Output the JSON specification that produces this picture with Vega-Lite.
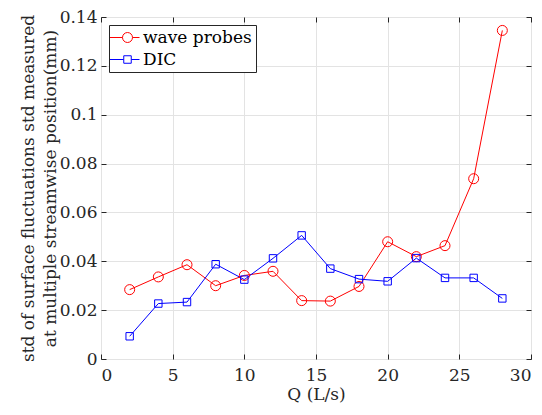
{
  "$schema": "https://vega.github.io/schema/vega-lite/v6.json",
  "width": 430,
  "height": 342,
  "autosize": {"type": "none"},
  "padding": {"left": 101, "top": 17, "right": 11, "bottom": 56},
  "config": {
    "font": "DejaVu Serif",
    "view": {"stroke": "#262626", "strokeWidth": 1},
    "axis": {
      "labelFont": "DejaVu Serif",
      "titleFont": "DejaVu Serif",
      "labelColor": "#262626",
      "titleColor": "#262626",
      "labelFontSize": 17,
      "titleFontSize": 17,
      "titleFontWeight": "normal",
      "gridColor": "#e3e3e3",
      "gridOpacity": 1,
      "tickColor": "#262626",
      "domain": false
    }
  },
  "data": {
    "values": [
      {"Q": 2, "std": 0.0284, "source": "wave probes"},
      {"Q": 4, "std": 0.0336, "source": "wave probes"},
      {"Q": 6, "std": 0.0386, "source": "wave probes"},
      {"Q": 8, "std": 0.0300, "source": "wave probes"},
      {"Q": 10, "std": 0.0342, "source": "wave probes"},
      {"Q": 12, "std": 0.0359, "source": "wave probes"},
      {"Q": 14, "std": 0.0239, "source": "wave probes"},
      {"Q": 16, "std": 0.0237, "source": "wave probes"},
      {"Q": 18, "std": 0.0297, "source": "wave probes"},
      {"Q": 20, "std": 0.0480, "source": "wave probes"},
      {"Q": 22, "std": 0.0419, "source": "wave probes"},
      {"Q": 24, "std": 0.0464, "source": "wave probes"},
      {"Q": 26, "std": 0.0738, "source": "wave probes"},
      {"Q": 28, "std": 0.1345, "source": "wave probes"},
      {"Q": 2, "std": 0.0093, "source": "DIC"},
      {"Q": 4, "std": 0.0227, "source": "DIC"},
      {"Q": 6, "std": 0.0233, "source": "DIC"},
      {"Q": 8, "std": 0.0388, "source": "DIC"},
      {"Q": 10, "std": 0.0325, "source": "DIC"},
      {"Q": 12, "std": 0.0412, "source": "DIC"},
      {"Q": 14, "std": 0.0506, "source": "DIC"},
      {"Q": 16, "std": 0.0370, "source": "DIC"},
      {"Q": 18, "std": 0.0327, "source": "DIC"},
      {"Q": 20, "std": 0.0318, "source": "DIC"},
      {"Q": 22, "std": 0.0413, "source": "DIC"},
      {"Q": 24, "std": 0.0332, "source": "DIC"},
      {"Q": 26, "std": 0.0332, "source": "DIC"},
      {"Q": 28, "std": 0.0248, "source": "DIC"}
    ]
  },
  "layer": [
    {
      "mark": {"type": "line", "strokeWidth": 1},
      "encoding": {
        "x": {
          "field": "Q", "type": "quantitative",
          "scale": {"domain": [0, 30], "nice": false},
          "axis": {"orient": "bottom", "title": "Q (L/s)", "values": [0, 5, 10, 15, 20, 25, 30], "format": "d", "grid": true, "tickSize": -5, "labelPadding": 13, "titlePadding": 3}
        },
        "y": {
          "field": "std", "type": "quantitative",
          "scale": {"domain": [0, 0.14], "nice": false},
          "axis": {"orient": "left", "title": ["std of surface fluctuations std measured", "at multiple streamwise position(mm)"], "titleLineHeight": 22, "titleFontSize": 17, "values": [0, 0.02, 0.04, 0.06, 0.08, 0.1, 0.12, 0.14], "format": "~g", "grid": true, "tickSize": -5, "labelPadding": 9, "titlePadding": 0}
        },
        "color": {
          "field": "source", "type": "nominal",
          "scale": {"domain": ["wave probes", "DIC"], "range": ["#ff0000", "#0000ff"]},
          "legend": {
            "title": null,
            "orient": "top-left",
            "offset": 8,
            "padding": 4,
            "rowPadding": 4,
            "symbolOffset": 6,
            "labelOffset": 7,
            "labelFont": "DejaVu Serif",
            "labelFontSize": 17,
            "labelColor": "black",
            "strokeColor": "#262626",
            "fillColor": "white",
            "cornerRadius": 0,
            "encode": {
              "symbols": {
                "update": {
                  "shape": {"signal": "datum.value === 'DIC' ? 'M-3.5,0H-0.75V-0.75H0.75V0.75H-0.75V0M0.75,0H2.4' : 'M-3.5,0H-1A1,1 0 1,1 1,0A1,1 0 1,1 -1,0M1,0H2.4'"},
                  "size": {"value": 100},
                  "fill": {"value": "transparent"},
                  "strokeWidth": {"value": 1},
                  "stroke": {"signal": "datum.value === 'DIC' ? '#0000ff' : '#ff0000'"}
                }
              }
            }
          }
        }
      }
    },
    {
      "transform": [{"filter": "datum.source === 'wave probes'"}],
      "mark": {"type": "point", "shape": "circle", "size": 100, "filled": false, "strokeWidth": 1, "opacity": 1},
      "encoding": {
        "x": {
          "field": "Q", "type": "quantitative",
          "axis": {"orient": "top", "labels": false, "title": null, "grid": false, "tickSize": -5, "values": [0, 5, 10, 15, 20, 25, 30]}
        },
        "y": {
          "field": "std", "type": "quantitative",
          "axis": {"orient": "right", "labels": false, "title": null, "grid": false, "tickSize": -5, "values": [0, 0.02, 0.04, 0.06, 0.08, 0.1, 0.12, 0.14]}
        },
        "color": {"field": "source", "type": "nominal"}
      }
    },
    {
      "transform": [{"filter": "datum.source === 'DIC'"}],
      "mark": {"type": "point", "shape": "square", "size": 55, "filled": false, "strokeWidth": 1, "opacity": 1},
      "encoding": {
        "x": {"field": "Q", "type": "quantitative", "axis": null},
        "y": {"field": "std", "type": "quantitative", "axis": null},
        "color": {"field": "source", "type": "nominal"}
      }
    }
  ],
  "resolve": {"axis": {"x": "independent", "y": "independent"}}
}
